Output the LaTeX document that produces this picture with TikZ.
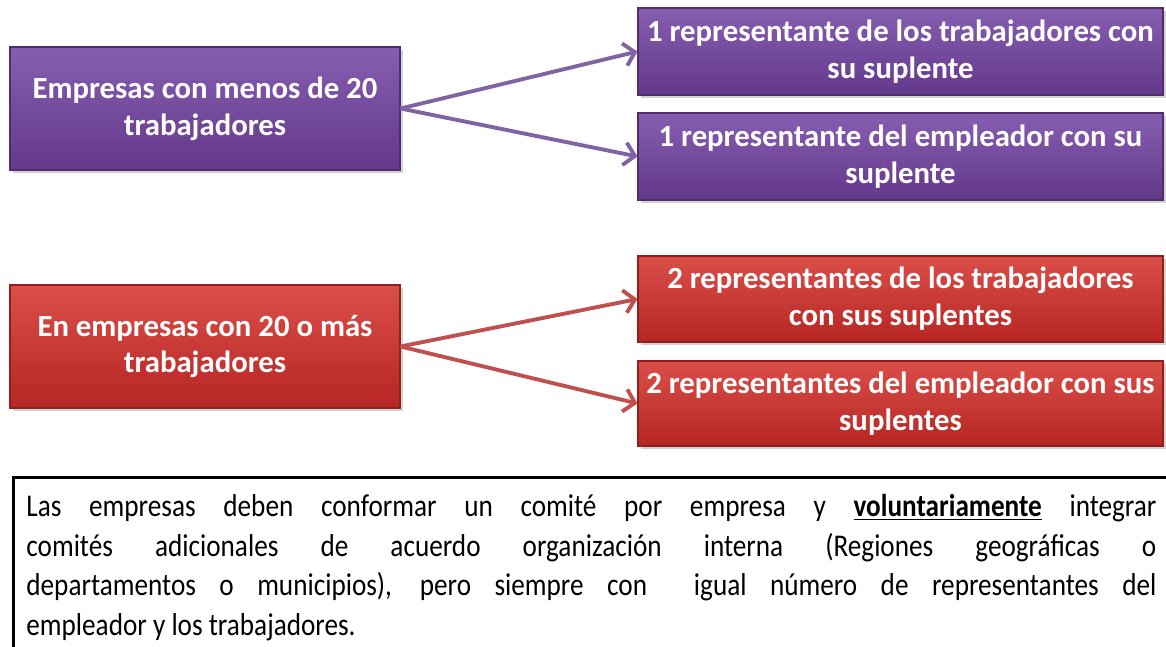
\documentclass[tikz,border=0pt]{standalone}
\usepackage{fontspec}
\setmainfont{Carlito}
\usetikzlibrary{arrows.meta, positioning, shadows}
\definecolor{figpurple}{RGB}{118,74,158}
\definecolor{figpurpletop}{RGB}{134,94,176}
\definecolor{figpurplebot}{RGB}{100,56,138}
\definecolor{figpurplearr}{RGB}{128,100,162}
\definecolor{figred}{RGB}{200,58,54}
\definecolor{figredtop}{RGB}{218,78,72}
\definecolor{figredbot}{RGB}{182,38,36}
\definecolor{figredarr}{RGB}{192,80,77}
\tikzset{
  bxP/.style={draw=figpurplebot!80!black, top color=figpurpletop, bottom color=figpurplebot,
              minimum width=#1, align=center, text=white,
              font=\fontsize{17.5}{21}\selectfont\bfseries, line width=0.6pt,
              drop shadow={shadow xshift=1.5pt, shadow yshift=-1.5pt, opacity=0.35}},
  bxR/.style={draw=figredbot!80!black, top color=figredtop, bottom color=figredbot,
              minimum width=#1, align=center, text=white,
              font=\fontsize{17.5}{21}\selectfont\bfseries, line width=0.6pt,
              drop shadow={shadow xshift=1.5pt, shadow yshift=-1.5pt, opacity=0.35}},
  arrP/.style={-{Straight Barb[length=6pt, width=13pt]}, line width=2.2pt, draw=figpurplearr},
  arrR/.style={-{Straight Barb[length=6pt, width=13pt]}, line width=2.2pt, draw=figredarr},
  note/.style={draw=black, line width=1.6pt, anchor=north west, align=justify,
               text width=22.6cm, minimum height=3.6cm, inner sep=0.26cm,
               font=\fontsize{18}{22.5}\selectfont\addfontfeature{FakeStretch=0.86}},
}
\begin{document}
\begin{tikzpicture}
  \useasboundingbox (0,0) rectangle (23.32,12.92);
  \node[bxP=7.8cm, minimum height=2.46cm] (few)   at (4.1,10.75)  {Empresas con menos de 20\\trabajadores};
  \node[bxP=10.5cm, minimum height=1.74cm] (fewW) at (18.01,11.89) {1 representante de los trabajadores con\\su suplente};
  \node[bxP=10.5cm, minimum height=1.74cm] (fewE) at (18.01,9.79)  {1 representante del empleador con su\\suplente};

  \node[bxR=7.8cm, minimum height=2.46cm] (many)   at (4.1,5.99)  {En empresas con 20 o más\\trabajadores};
  \node[bxR=10.5cm, minimum height=1.72cm] (manyW) at (18.01,6.94) {2 representantes de los trabajadores\\con sus suplentes};
  \node[bxR=10.5cm, minimum height=1.70cm] (manyE) at (18.01,4.85) {2 representantes del empleador con sus\\suplentes};

  \draw[arrP] (few.east)  -- (fewW.west);
  \draw[arrP] (few.east)  -- (fewE.west);
  \draw[arrR] (many.east) -- (manyW.west);
  \draw[arrR] (many.east) -- (manyE.west);

  \node[note] (txt) at (0.24,3.4)
    {Las empresas deben conformar un comité por empresa y \underline{\textbf{voluntariamente}} integrar\linebreak
     comités adicionales de acuerdo organización interna (Regiones geográficas o\linebreak
     departamentos o municipios), pero siempre con~ igual número de representantes del\linebreak
     empleador y los trabajadores.};
\end{tikzpicture}
\end{document}
